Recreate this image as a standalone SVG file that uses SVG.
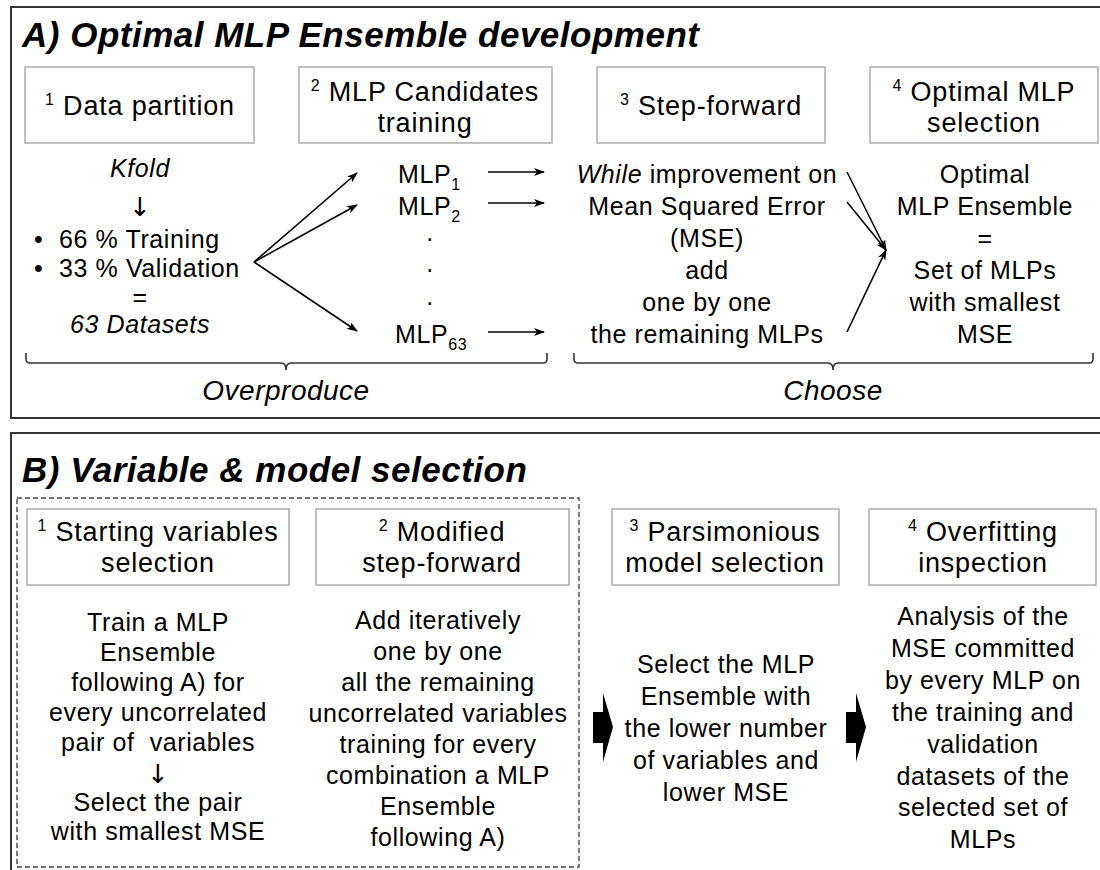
<svg xmlns="http://www.w3.org/2000/svg" width="1100" height="870" viewBox="0 0 1100 870">
<defs>
<style>
text{font-family:"Liberation Sans",Arial,Helvetica,sans-serif;fill:#000}
.ttl{font-size:35px;font-weight:bold;font-style:italic;letter-spacing:.5px}
.hd{font-size:27px;letter-spacing:.8px;text-anchor:middle}
.tx{font-size:25px;letter-spacing:.6px;text-anchor:middle}
.ts{font-size:25px;letter-spacing:.6px}
.dn{font-family:"DejaVu Sans",sans-serif;font-size:26px;text-anchor:middle;fill:#000}
.lbl{font-size:28px;font-style:italic;letter-spacing:.5px;text-anchor:middle}
.it{font-style:italic}
.sm{font-size:16px}
.frame{fill:none;stroke:#333;stroke-width:2}
.step{fill:#fff;stroke:#a6a6a6;stroke-width:1.4}
.dash{fill:none;stroke:#444;stroke-width:1.4;stroke-dasharray:5 3}
.brace{fill:none;stroke:#333;stroke-width:1.6}
.arr{fill:none;stroke:#000;stroke-width:1.6;marker-end:url(#ah)}
.fat{fill:#000}
</style>
<marker id="ah" markerWidth="11" markerHeight="8" refX="10" refY="4" orient="auto" markerUnits="userSpaceOnUse">
<path d="M0,0 L11,4 L0,8 L3,4 Z" fill="#000"/>
</marker>
</defs>

<!-- Panel A -->
<g id="panelA">
<rect class="frame" x="11" y="7" width="1100" height="411"/>
<text class="ttl" x="22" y="47">A) Optimal MLP Ensemble development</text>
</g>

<g id="a1">
<rect class="step" x="25" y="67" width="229" height="76"/>
<text class="hd" x="140" y="115"><tspan class="sm" dy="-10">1</tspan><tspan dy="10"> Data partition</tspan></text>
<text class="tx it" x="140" y="177">Kfold</text>
<text class="dn" x="140" y="216">↓</text>
<text class="ts" x="34" y="248">•</text>
<text class="ts" x="59" y="248">66 % Training</text>
<text class="ts" x="34" y="277">•</text>
<text class="ts" x="59" y="277">33 % Validation</text>
<text class="tx" x="140" y="306">=</text>
<text class="tx it" x="140" y="333">63 Datasets</text>
</g>

<g id="a2">
<rect class="step" x="299" y="67" width="253" height="76"/>
<text class="hd" x="425" y="101"><tspan class="sm" dy="-10">2</tspan><tspan dy="10"> MLP Candidates</tspan></text>
<text class="hd" x="425" y="132">training</text>
<text class="ts" x="398" y="183">MLP<tspan class="sm" dy="7">1</tspan></text>
<text class="ts" x="398" y="215">MLP<tspan class="sm" dy="7">2</tspan></text>
<text class="tx" x="430" y="241">.</text>
<text class="tx" x="430" y="272">.</text>
<text class="tx" x="430" y="305">.</text>
<text class="ts" x="395" y="343">MLP<tspan class="sm" dy="7">63</tspan></text>
</g>

<g id="a3">
<rect class="step" x="597" y="67" width="228" height="76"/>
<text class="hd" x="711" y="115"><tspan class="sm" dy="-10">3</tspan><tspan dy="10"> Step-forward</tspan></text>
<text class="tx" x="707" y="183"><tspan class="it">While</tspan> improvement on</text>
<text class="tx" x="707" y="215">Mean Squared Error</text>
<text class="tx" x="707" y="247">(MSE)</text>
<text class="tx" x="707" y="279">add</text>
<text class="tx" x="707" y="311">one by one</text>
<text class="tx" x="707" y="343">the remaining MLPs</text>
</g>

<g id="a4">
<rect class="step" x="870" y="67" width="228" height="76"/>
<text class="hd" x="984" y="101"><tspan class="sm" dy="-10">4</tspan><tspan dy="10"> Optimal MLP</tspan></text>
<text class="hd" x="984" y="132">selection</text>
<text class="tx" x="985" y="183">Optimal</text>
<text class="tx" x="985" y="215">MLP Ensemble</text>
<text class="tx" x="985" y="247">=</text>
<text class="tx" x="985" y="279">Set of MLPs</text>
<text class="tx" x="985" y="311">with smallest</text>
<text class="tx" x="985" y="343">MSE</text>
</g>

<g id="overproduce">
<path class="brace" d="M26,353 V359 Q26,363 30,363 H281 Q286,363 286,370 Q286,363 291,363 H543 Q547,363 547,359 V353"/>
<text class="lbl" x="286" y="400">Overproduce</text>
</g>

<g id="choose">
<path class="brace" d="M574,353 V359 Q574,363 578,363 H828 Q833,363 833,370 Q833,363 838,363 H1089 Q1093,363 1093,359 V353"/>
<text class="lbl" x="833" y="400">Choose</text>
</g>

<!-- Panel B -->
<g id="panelB">
<rect class="frame" x="11" y="433" width="1100" height="460"/>
<text class="ttl" x="22" y="482">B) Variable &amp; model selection</text>
<rect class="dash" x="17" y="498" width="562" height="369"/>
</g>

<g id="b1">
<rect class="step" x="27" y="509" width="262" height="76"/>
<text class="hd" x="158" y="541"><tspan class="sm" dy="-10">1</tspan><tspan dy="10"> Starting variables</tspan></text>
<text class="hd" x="158" y="572">selection</text>
<text class="tx" x="158" y="631">Train a MLP</text>
<text class="tx" x="158" y="661">Ensemble</text>
<text class="tx" x="158" y="691">following A) for</text>
<text class="tx" x="158" y="721">every uncorrelated</text>
<text class="tx" x="158" y="751" xml:space="preserve">pair of  variables</text>
<text class="dn" x="158" y="783">↓</text>
<text class="tx" x="158" y="811">Select the pair</text>
<text class="tx" x="158" y="840">with smallest MSE</text>
</g>

<g id="b2">
<rect class="step" x="316" y="509" width="253" height="76"/>
<text class="hd" x="442" y="541"><tspan class="sm" dy="-10">2</tspan><tspan dy="10"> Modified</tspan></text>
<text class="hd" x="442" y="572">step-forward</text>
<text class="tx" x="438" y="629">Add iteratively</text>
<text class="tx" x="438" y="660">one by one</text>
<text class="tx" x="438" y="691">all the remaining</text>
<text class="tx" x="438" y="722">uncorrelated variables</text>
<text class="tx" x="438" y="753">training for every</text>
<text class="tx" x="438" y="784">combination a MLP</text>
<text class="tx" x="438" y="815">Ensemble</text>
<text class="tx" x="438" y="846">following A)</text>
</g>

<g id="b3">
<rect class="step" x="612" y="509" width="227" height="76"/>
<text class="hd" x="725" y="541"><tspan class="sm" dy="-10">3</tspan><tspan dy="10"> Parsimonious</tspan></text>
<text class="hd" x="725" y="572">model selection</text>
<text class="tx" x="726" y="673">Select the MLP</text>
<text class="tx" x="726" y="705">Ensemble with</text>
<text class="tx" x="726" y="737">the lower number</text>
<text class="tx" x="726" y="769">of variables and</text>
<text class="tx" x="726" y="801">lower MSE</text>
</g>

<g id="b4">
<rect class="step" x="869" y="509" width="227" height="76"/>
<text class="hd" x="983" y="541"><tspan class="sm" dy="-10">4</tspan><tspan dy="10"> Overfitting</tspan></text>
<text class="hd" x="983" y="572">inspection</text>
<text class="tx" x="983" y="625">Analysis of the</text>
<text class="tx" x="983" y="657">MSE committed</text>
<text class="tx" x="983" y="689">by every MLP on</text>
<text class="tx" x="983" y="721">the training and</text>
<text class="tx" x="983" y="753">validation</text>
<text class="tx" x="983" y="785">datasets of the</text>
<text class="tx" x="983" y="816">selected set of</text>
<text class="tx" x="983" y="848">MLPs</text>
</g>

<!-- Connectors -->
<g id="connectors">
<line class="arr" x1="254" y1="262" x2="357" y2="173"/>
<line class="arr" x1="254" y1="262" x2="357" y2="205"/>
<line class="arr" x1="254" y1="262" x2="357" y2="331"/>
<line class="arr" x1="488" y1="172" x2="544" y2="172"/>
<line class="arr" x1="488" y1="203" x2="544" y2="203"/>
<line class="arr" x1="488" y1="332" x2="544" y2="332"/>
<line class="arr" x1="847" y1="172" x2="886" y2="250"/>
<line class="arr" x1="847" y1="202" x2="886" y2="250"/>
<line class="arr" x1="847" y1="332" x2="886" y2="250"/>
<polygon class="fat" points="593,712 603,712 603,693 613,727 603,762 603,743 593,743"/>
<polygon class="fat" points="846,712 856,712 856,693 866,727 856,762 856,743 846,743"/>
</g>
</svg>
